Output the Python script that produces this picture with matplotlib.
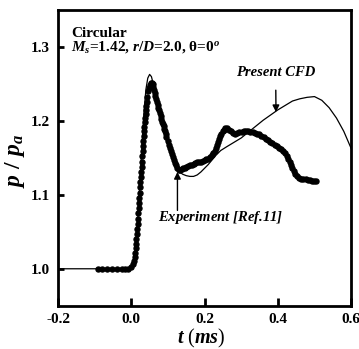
import matplotlib
matplotlib.use('Agg')
import matplotlib.pyplot as plt

plt.rcParams['font.family'] = ['Liberation Serif', 'DejaVu Serif']
plt.rcParams['font.weight'] = 'bold'
plt.rcParams['mathtext.fontset'] = 'custom'
plt.rcParams['mathtext.rm'] = 'Liberation Serif:bold'
plt.rcParams['mathtext.it'] = 'Liberation Serif:italic:bold'
plt.rcParams['mathtext.bf'] = 'Liberation Serif:bold'

# 数值计算结果 (Present CFD)
cfd_t = [-0.2, 0.0, 0.005, 0.010, 0.015, 0.020, 0.025, 0.030, 0.035, 0.040,
         0.045, 0.050, 0.055, 0.060, 0.070, 0.080, 0.090, 0.100, 0.110, 0.120,
         0.130, 0.140, 0.150, 0.160, 0.170, 0.180, 0.190, 0.200, 0.210, 0.220,
         0.230, 0.244, 0.260, 0.280, 0.300, 0.320, 0.340, 0.360, 0.380, 0.400,
         0.420, 0.440, 0.460, 0.480, 0.500, 0.520, 0.540, 0.560, 0.580, 0.600]
cfd_p = [1.0, 1.0, 1.005, 1.020, 1.045, 1.085, 1.130, 1.175, 1.215, 1.243,
         1.258, 1.263, 1.260, 1.250, 1.226, 1.203, 1.183, 1.166, 1.152, 1.140,
         1.132, 1.128, 1.126, 1.125, 1.125, 1.127, 1.131, 1.136, 1.141, 1.147,
         1.153, 1.160, 1.165, 1.171, 1.177, 1.185, 1.193, 1.201, 1.208, 1.215,
         1.221, 1.227, 1.230, 1.232, 1.233, 1.228, 1.218, 1.204, 1.186, 1.163]

# 实验数据 (Experiment [Ref.11])
exp_t = [-0.092, -0.079, -0.065, -0.052, -0.038, -0.026, -0.016, -0.008, 0.000,
         0.004, 0.007, 0.009, 0.011, 0.012, 0.013, 0.014, 0.015, 0.016, 0.017,
         0.018, 0.019, 0.020, 0.021, 0.022, 0.023, 0.024, 0.025, 0.026, 0.027,
         0.028, 0.029, 0.030, 0.031, 0.032, 0.033, 0.034, 0.035, 0.036, 0.037,
         0.038, 0.039, 0.040, 0.041, 0.042, 0.044, 0.046, 0.048, 0.050, 0.053,
         0.056, 0.058, 0.060, 0.062, 0.064, 0.066, 0.068, 0.070, 0.072, 0.074,
         0.076, 0.078, 0.080, 0.082, 0.084, 0.086, 0.088, 0.090, 0.092, 0.094,
         0.096, 0.099, 0.102, 0.105, 0.108, 0.111, 0.114, 0.117, 0.120, 0.123,
         0.126, 0.130, 0.134, 0.138, 0.142, 0.146, 0.150, 0.155, 0.160, 0.165,
         0.170, 0.175, 0.180, 0.185, 0.190, 0.195, 0.200, 0.205, 0.210, 0.215,
         0.220, 0.224, 0.228, 0.231, 0.234, 0.237, 0.240, 0.243, 0.246, 0.249,
         0.253, 0.257, 0.262, 0.267, 0.272, 0.277, 0.283, 0.289, 0.295, 0.301,
         0.307, 0.313, 0.319, 0.325, 0.331, 0.337, 0.343, 0.349, 0.355, 0.361,
         0.367, 0.373, 0.379, 0.385, 0.391, 0.397, 0.403, 0.409, 0.414, 0.419,
         0.424, 0.428, 0.432, 0.436, 0.440, 0.444, 0.448, 0.453, 0.458, 0.464,
         0.470, 0.476, 0.482, 0.488, 0.494, 0.500, 0.503]
exp_p = [1.0, 1.0, 1.0, 1.0, 1.0, 1.0, 1.0, 1.0, 1.002,
         1.006, 1.011, 1.016, 1.022, 1.028, 1.034, 1.040, 1.047, 1.054, 1.061,
         1.068, 1.075, 1.082, 1.089, 1.096, 1.103, 1.110, 1.117, 1.124, 1.131,
         1.138, 1.145, 1.152, 1.159, 1.166, 1.173, 1.180, 1.186, 1.192, 1.198,
         1.204, 1.210, 1.215, 1.220, 1.225, 1.233, 1.240, 1.245, 1.248, 1.251,
         1.252, 1.250, 1.246, 1.242, 1.238, 1.234, 1.230, 1.226, 1.222, 1.218,
         1.215, 1.211, 1.207, 1.203, 1.199, 1.196, 1.193, 1.189, 1.186, 1.182,
         1.178, 1.173, 1.168, 1.164, 1.159, 1.155, 1.151, 1.147, 1.143, 1.140,
         1.137, 1.134, 1.134, 1.135, 1.136, 1.137, 1.138, 1.139, 1.140, 1.141,
         1.142, 1.143, 1.144, 1.145, 1.145, 1.146, 1.147, 1.148, 1.149, 1.151,
         1.154, 1.157, 1.160, 1.164, 1.168, 1.172, 1.175, 1.179, 1.183, 1.186,
         1.188, 1.190, 1.190, 1.188, 1.186, 1.184, 1.183, 1.184, 1.185, 1.185,
         1.186, 1.186, 1.186, 1.185, 1.185, 1.184, 1.183, 1.182, 1.180, 1.178,
         1.176, 1.174, 1.172, 1.170, 1.168, 1.166, 1.164, 1.162, 1.159, 1.156,
         1.152, 1.148, 1.144, 1.140, 1.136, 1.132, 1.128, 1.125, 1.123, 1.122,
         1.121, 1.121, 1.120, 1.120, 1.119, 1.119, 1.119]

xticks = [-0.2, 0.0, 0.2, 0.4, 0.6]
yticks = [1.0, 1.1, 1.2, 1.3]

fig = plt.figure(figsize=(3.59, 3.49), dpi=100)
ax = fig.add_axes([0.1616, 0.124, 0.8164, 0.847])

ax.plot(cfd_t, cfd_p, color='black', lw=0.9, zorder=2)
ax.plot(exp_t, exp_p, linestyle='none', marker='o', ms=3.6,
        color='black', zorder=3)

ax.set_xlim(-0.2, 0.6)
ax.set_ylim(0.95, 1.35)
ax.set_xticks(xticks)
ax.set_yticks(yticks)
ax.set_xticklabels(['%.1f' % v for v in xticks])
ax.set_yticklabels(['%.1f' % v for v in yticks])
ax.tick_params(axis='x', direction='in', length=6, width=2, labelsize=11, pad=5)
ax.tick_params(axis='y', direction='in', length=4.5, width=2, labelsize=11, pad=6)
for sp in ax.spines.values():
    sp.set_linewidth(2)

ax.set_xlabel(r'$t$ ($ms$)', fontsize=14.5)
ax.xaxis.set_label_coords(0.49, -0.071)
ax.set_ylabel(r'$p\ /\ p_a$', fontsize=17)
ax.yaxis.set_label_coords(-0.105, 0.49)

ax.text(0.046, 0.922, 'Circular', transform=ax.transAxes, fontsize=11,
        fontweight='bold', va='center')
ax.text(0.046, 0.875, r'$M_s$=1.42, $r/D$=2.0, θ=0$^o$', transform=ax.transAxes,
        fontsize=11, fontweight='bold', va='center')

ax.annotate('Present CFD', xy=(0.395, 1.212), xytext=(0.394, 1.2655),
            ha='center', va='center', fontsize=10.5, fontweight='bold',
            fontstyle='italic',
            arrowprops=dict(arrowstyle='-|>', color='black', lw=1,
                            mutation_scale=10, shrinkA=6, shrinkB=0))
ax.text(0.243, 1.069, r'Experiment [$Ref$.11]', ha='center', va='center',
        fontsize=10.5, fontweight='bold', fontstyle='italic')
ax.annotate('', xy=(0.126, 1.131), xytext=(0.126, 1.079),
            arrowprops=dict(arrowstyle='-|>', color='black', lw=1,
                            mutation_scale=10, shrinkA=0, shrinkB=0))

fig.savefig('out.png', dpi=100)
